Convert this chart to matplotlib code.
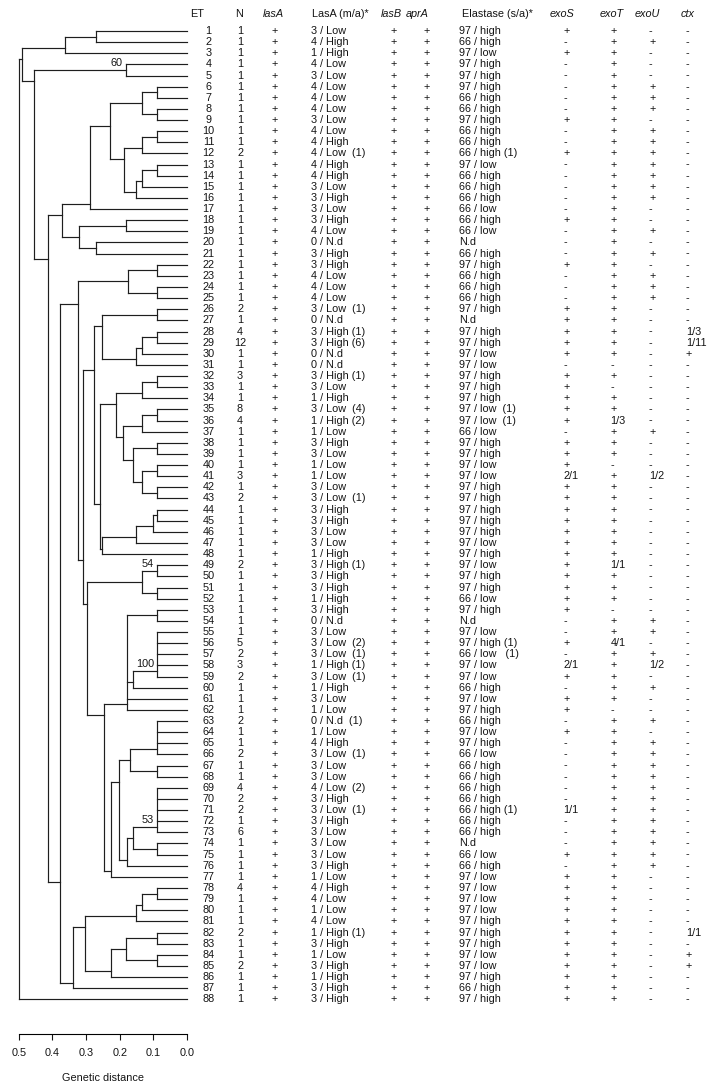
import matplotlib
matplotlib.use('Agg')
import matplotlib.pyplot as plt
import matplotlib.transforms as mtransforms

plt.rcParams['font.family'] = ['Liberation Sans', 'DejaVu Sans']

W, H = 712, 1083
FS = 7.8
INK = '#141414'

# ---------------- table data ----------------
et = list(range(1, 89))
n_isolates = [1, 1, 1, 1, 1, 1, 1, 1, 1, 1,
              1, 2, 1, 1, 1, 1, 1, 1, 1, 1,
              1, 1, 1, 1, 1, 2, 1, 4, 12, 1,
              1, 3, 1, 1, 8, 4, 1, 1, 1, 1,
              3, 1, 2, 1, 1, 1, 1, 1, 2, 1,
              1, 1, 1, 1, 1, 5, 2, 3, 2, 1,
              1, 1, 2, 1, 1, 2, 1, 1, 4, 2,
              2, 1, 6, 1, 1, 1, 1, 4, 1, 1,
              1, 2, 1, 1, 2, 1, 1, 1]
lasA_gene = ['+'] * 88
lasB_gene = ['+'] * 88
aprA_gene = ['+'] * 88
lasA_activity = [
    '3 / Low', '4 / High', '1 / High', '4 / Low', '3 / Low', '4 / Low', '4 / Low', '4 / Low', '3 / Low', '4 / Low',
    '4 / High', '4 / Low  (1)', '4 / High', '4 / High', '3 / Low', '3 / High', '3 / Low', '3 / High', '4 / Low', '0 / N.d',
    '3 / High', '3 / High', '4 / Low', '4 / Low', '4 / Low', '3 / Low  (1)', '0 / N.d', '3 / High (1)', '3 / High (6)', '0 / N.d',
    '0 / N.d', '3 / High (1)', '3 / Low', '1 / High', '3 / Low  (4)', '1 / High (2)', '1 / Low', '3 / High', '3 / Low', '1 / Low',
    '1 / Low', '3 / Low', '3 / Low  (1)', '3 / High', '3 / High', '3 / Low', '3 / Low', '1 / High', '3 / High (1)', '3 / High',
    '3 / High', '1 / High', '3 / High', '0 / N.d', '3 / Low', '3 / Low  (2)', '3 / Low  (1)', '1 / High (1)', '3 / Low  (1)', '1 / High',
    '3 / Low', '1 / Low', '0 / N.d  (1)', '1 / Low', '4 / High', '3 / Low  (1)', '3 / Low', '3 / Low', '4 / Low  (2)', '3 / High',
    '3 / Low  (1)', '3 / High', '3 / Low', '3 / Low', '3 / Low', '3 / High', '1 / Low', '4 / High', '4 / Low', '1 / Low',
    '4 / Low', '1 / High (1)', '3 / High', '1 / Low', '3 / High', '1 / High', '3 / High', '3 / High']
elastase = [
    '97 / high', '66 / high', '97 / low', '97 / high', '97 / high', '97 / high', '66 / high', '66 / high', '97 / high', '66 / high',
    '66 / high', '66 / high (1)', '97 / low', '66 / high', '66 / high', '66 / high', '66 / low', '66 / high', '66 / low', 'N.d',
    '66 / high', '97 / high', '66 / high', '66 / high', '66 / high', '97 / high', 'N.d', '97 / high', '97 / high', '97 / low',
    '97 / low', '97 / high', '97 / high', '97 / high', '97 / low  (1)', '97 / low  (1)', '66 / low', '97 / high', '97 / high', '97 / low',
    '97 / low', '97 / high', '97 / high', '97 / high', '97 / high', '97 / high', '97 / low', '97 / high', '97 / low', '97 / high',
    '97 / high', '66 / low', '97 / high', 'N.d', '97 / low', '97 / high (1)', '66 / low   (1)', '97 / low', '97 / low', '66 / high',
    '97 / low', '97 / high', '66 / high', '97 / low', '97 / high', '66 / low', '66 / high', '66 / high', '66 / high', '66 / high',
    '66 / high (1)', '66 / high', '66 / high', 'N.d', '66 / low', '66 / high', '97 / low', '97 / low', '97 / low', '97 / low',
    '97 / high', '97 / high', '97 / high', '97 / low', '97 / low', '97 / high', '66 / high', '97 / high']
exoS = ['+', '-', '+', '-', '-', '-', '-', '-', '+', '-',
        '-', '+', '-', '-', '-', '-', '-', '+', '-', '-',
        '-', '+', '-', '-', '-', '+', '+', '+', '+', '+',
        '-', '+', '+', '+', '+', '+', '-', '+', '+', '+',
        '2/1', '+', '+', '+', '+', '+', '+', '+', '+', '+',
        '+', '+', '+', '-', '-', '+', '-', '2/1', '+', '-',
        '+', '+', '-', '+', '-', '-', '-', '-', '-', '-',
        '1/1', '-', '-', '-', '+', '-', '+', '+', '+', '+',
        '+', '+', '+', '+', '+', '+', '+', '+']
exoT = ['+', '+', '+', '+', '+', '+', '+', '+', '+', '+',
        '+', '+', '+', '+', '+', '+', '+', '+', '+', '+',
        '+', '+', '+', '+', '+', '+', '+', '+', '+', '+',
        '-', '+', '-', '+', '+', '1/3', '+', '+', '+', '-',
        '+', '+', '+', '+', '+', '+', '+', '+', '1/1', '+',
        '+', '+', '-', '+', '+', '4/1', '+', '+', '+', '+',
        '+', '-', '+', '+', '+', '+', '+', '+', '+', '+',
        '+', '+', '+', '+', '+', '+', '+', '+', '+', '+',
        '+', '+', '+', '+', '+', '+', '+', '+']
exoU = ['-', '+', '-', '-', '-', '+', '+', '+', '-', '+',
        '+', '+', '+', '+', '+', '+', '-', '-', '+', '-',
        '+', '-', '+', '+', '+', '-', '-', '-', '-', '-',
        '-', '-', '-', '-', '-', '-', '+', '-', '-', '-',
        '1/2', '-', '-', '-', '-', '-', '-', '-', '-', '-',
        '-', '-', '-', '+', '+', '-', '+', '1/2', '-', '+',
        '-', '-', '+', '-', '+', '+', '+', '+', '+', '+',
        '+', '+', '+', '+', '+', '+', '-', '-', '-', '-',
        '-', '-', '-', '-', '-', '-', '-', '-']
ctx = ['-', '-', '-', '-', '-', '-', '-', '-', '-', '-',
       '-', '-', '-', '-', '-', '-', '-', '-', '-', '-',
       '-', '-', '-', '-', '-', '-', '-', '1/3', '1/11', '+',
       '-', '-', '-', '-', '-', '-', '-', '-', '-', '-',
       '-', '-', '-', '-', '-', '-', '-', '-', '-', '-',
       '-', '-', '-', '-', '-', '-', '-', '-', '-', '-',
       '-', '-', '-', '-', '-', '-', '-', '-', '-', '-',
       '-', '-', '-', '-', '-', '-', '-', '-', '-', '-',
       '-', '1/1', '-', '+', '+', '-', '-', '-']

headers = ['ET', 'N', 'lasA', 'LasA (m/a)*', 'lasB', 'aprA', 'Elastase (s/a)*',
           'exoS', 'exoT', 'exoU', 'ctx']

# ---------------- dendrogram data (genetic distance at each join) ----------------
def nd(h, *kids, label=None):
    return {'h': h, 'kids': list(kids), 'label': label}

grp_1_3 = nd(0.361, nd(0.271, 1, 2), 3)
grp_6_16 = nd(0.229,
              nd(0.135, nd(0.088, 6, 7), nd(0.088, 8, 9)),
              nd(0.187,
                 nd(0.135, nd(0.088, 10, 11), 12),
                 nd(0.152, nd(0.135, nd(0.088, 13, 14), 15), 16)))
grp_6_21 = nd(0.370,
              nd(0.287, grp_6_16, 17),
              nd(0.320, nd(0.180, 18, 19), nd(0.271, 20, 21)))
grp_26_31 = nd(0.254, nd(0.088, 26, 27),
               nd(0.152, nd(0.135, nd(0.088, 28, 29), 30), 31))
grp_32_43 = nd(0.211,
               nd(0.135, nd(0.088, 32, 33), 34),
               nd(0.191,
                  nd(0.135, nd(0.088, 35, 36), 37),
                  nd(0.160, nd(0.088, 38, 39),
                     nd(0.135, nd(0.088, 40, 41), nd(0.088, 42, 43)))))
grp_44_48 = nd(0.254, nd(0.152, nd(0.100, nd(0.088, 44, 45), 46), 47), 48)
grp_49_52 = nd(0.135, nd(0.088, 49, 50, label='54'), nd(0.088, 51, 52))
grp_53_62 = nd(0.177, nd(0.088, 53, 54),
               nd(0.160, nd(0.088, 55, 56, 57, 58, 59, label='100'), 60), 61, 62)
grp_63_77 = nd(0.226,
               nd(0.201,
                  nd(0.170, nd(0.088, 63, 64, 65, 66), nd(0.088, 67, 68)),
                  nd(0.178,
                     nd(0.160, nd(0.088, 69, 70, 71, 72, 73, label='53'), nd(0.088, 74, 75)),
                     76)),
               77)
grp_22_77 = nd(0.325,
               nd(0.175, nd(0.088, 22, 23), nd(0.088, 24, 25)),
               nd(0.309,
                  nd(0.276, grp_26_31, nd(0.259, grp_32_43, grp_44_48)),
                  nd(0.297, grp_49_52, nd(0.247, grp_53_62, grp_63_77))))
grp_78_87 = nd(0.338,
               nd(0.304,
                  nd(0.153, nd(0.135, nd(0.088, 78, 79), 80), 81),
                  nd(0.227, nd(0.180, nd(0.088, 82, 83), nd(0.088, 84, 85)), 86)),
               87)
tree = nd(0.500,
          nd(0.489, grp_1_3,
             nd(0.456, nd(0.180, 4, 5, label='60'),
                nd(0.413, grp_6_21, nd(0.378, grp_22_77, grp_78_87)))),
          88)

# ---------------- figure ----------------
fig = plt.figure(figsize=(W / 100, H / 100), dpi=100)
row0_px, row_px = 31.0, 11.13
axis_px = 1034.3
ax = fig.add_axes([18.7 / W, (H - axis_px) / H, (187.0 - 18.7) / W, axis_px / H])
ax.set_xlim(0.5, 0.0)
ax.set_ylim(1 + (axis_px - row0_px) / row_px, 1 - row0_px / row_px)

segs = []
labels = []


def layout(t):
    if isinstance(t, int):
        return 0.0, float(t), t, t
    info = [layout(k) for k in t['kids']]
    h = t['h']
    ys = [i[1] for i in info]
    for kh, ky, _, _ in info:
        segs.append(([kh, h], [ky, ky]))
    segs.append(([h, h], [min(ys), max(ys)]))
    y = info[-1][2] - 0.5
    if t['label']:
        labels.append((h, y, t['label']))
    return h, y, info[0][2], info[-1][3]


layout(tree)
for xs, ys in segs:
    ax.plot(xs, ys, color='#1e1e1e', lw=0.85, solid_capstyle='projecting', clip_on=False)
for h, y, lab in labels:
    ax.annotate(lab, (h, y), xytext=(-2.5, 3), textcoords='offset points',
                ha='right', va='baseline', fontsize=FS, color=INK)

for s in ['top', 'right', 'left']:
    ax.spines[s].set_visible(False)
ax.spines['bottom'].set_bounds(0.0, 0.5)
ax.spines['bottom'].set_linewidth(0.8)
ax.set_yticks([])
ticks = [0.5, 0.4, 0.3, 0.2, 0.1, 0.0]
ax.set_xticks(ticks)
ax.set_xticklabels(['%.1f' % t for t in ticks], fontsize=FS)
ax.tick_params(axis='x', direction='out', length=4, width=0.8, pad=6, colors=INK)
ax.set_xlabel('Genetic distance', fontsize=FS, labelpad=11, color=INK)
ax.patch.set_visible(False)

# ---------------- table ----------------
trans = mtransforms.blended_transform_factory(fig.transFigure, ax.transData)
hdr_y = 1 + (13.7 - row0_px) / row_px

# (column values, x pixel, alignment, header x pixel, header alignment, italic header)
columns = [
    (et, 208.5, 'center', 197.0, 'center', False),
    (n_isolates, 240.0, 'center', 239.5, 'center', False),
    (lasA_gene, 275.0, 'center', 273.0, 'center', True),
    (lasA_activity, 310.8, 'left', 311.5, 'left', False),
    (lasB_gene, 394.0, 'center', 391.0, 'center', True),
    (aprA_gene, 426.7, 'center', 417.5, 'center', True),
    (elastase, 459.5, 'left', 461.5, 'left', False),
    (exoS, 563.5, 'left', 562.0, 'center', True),
    (exoT, 610.5, 'left', 612.0, 'center', True),
    (exoU, 649.0, 'left', 647.0, 'center', True),
    (ctx, 686.0, 'left', 688.0, 'center', True),
]

for (vals, xp, al, hx, hal, ital), hdr in zip(columns, headers):
    fig.text(hx / W, hdr_y, hdr, transform=trans, ha=hal, va='center',
             fontsize=FS, style='italic' if ital else 'normal', color=INK)
    for r, v in zip(et, vals):
        fig.text(xp / W, r, str(v), transform=trans, ha=al, va='center',
                 fontsize=FS, color=INK)

fig.savefig('out.png', dpi=100, facecolor='white')
